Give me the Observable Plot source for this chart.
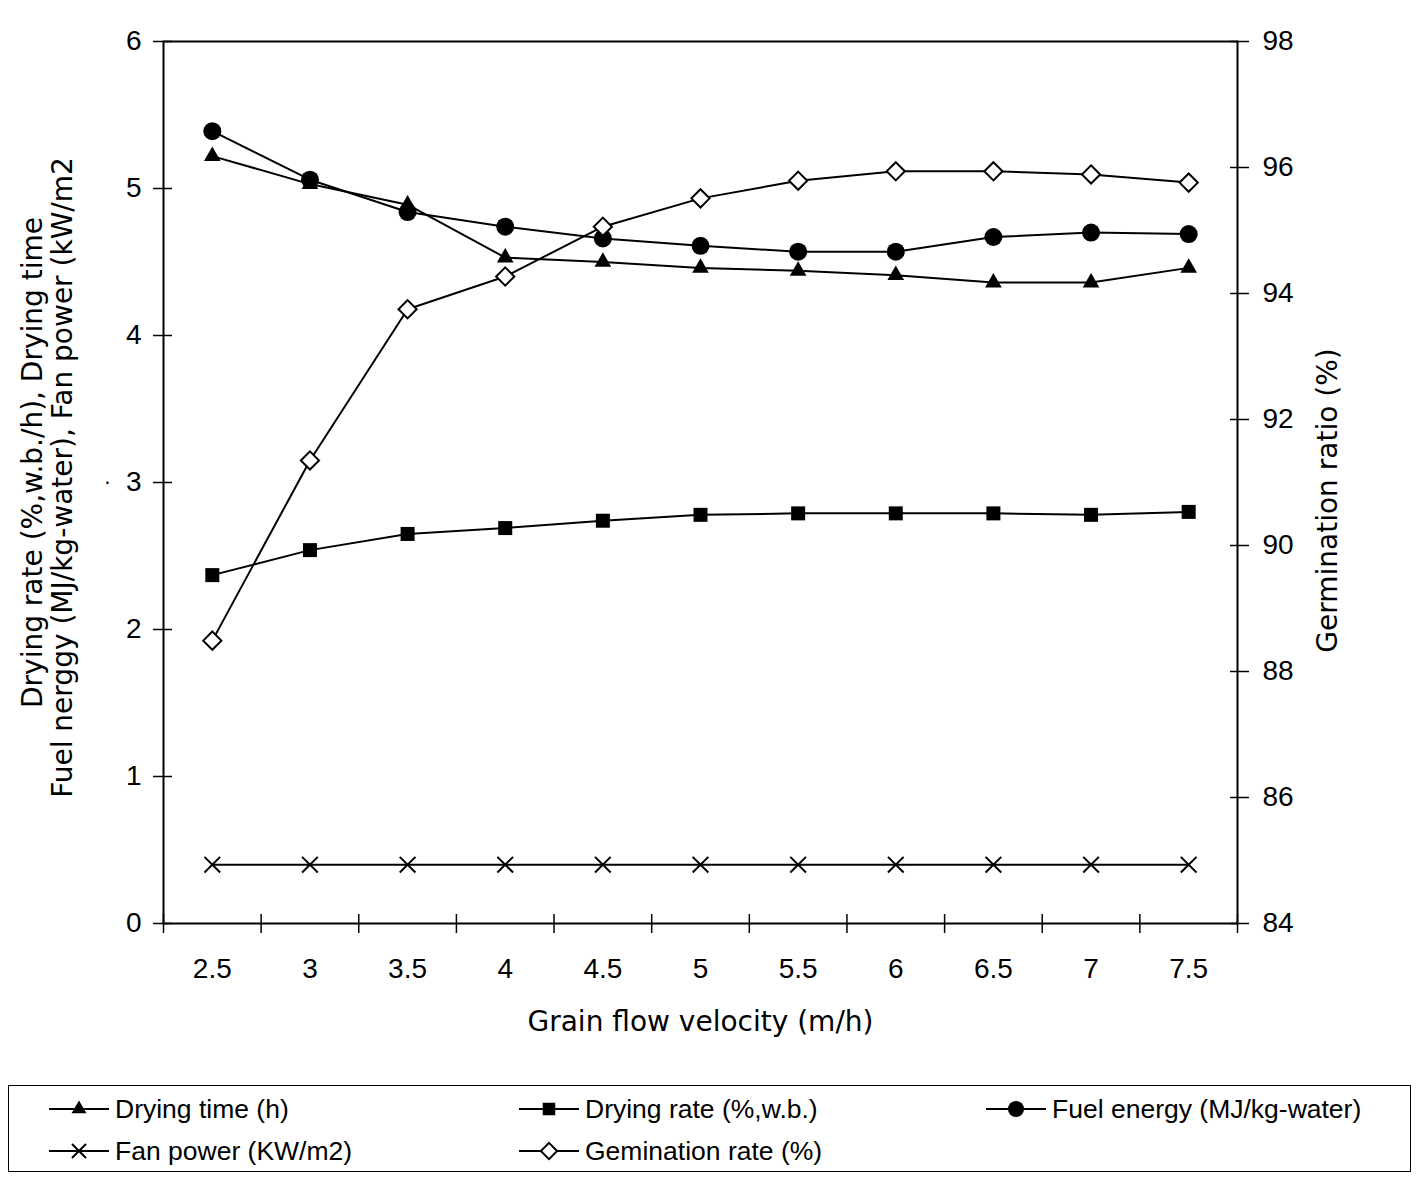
<!DOCTYPE html>
<html><head><meta charset="utf-8">
<script src="https://cdn.jsdelivr.net/npm/d3@7"></script>
<script src="https://cdn.jsdelivr.net/npm/@observablehq/plot@0.6"></script>
<style>
body{margin:0;background:#fff;font-family:"Liberation Sans",Arial,sans-serif;}
#wrap{position:relative;width:1418px;height:1181px;overflow:hidden;}
#legend{position:absolute;left:8px;top:1085px;width:1403px;height:87px;border:1.5px solid #000;box-sizing:border-box;}
.item{position:absolute;display:flex;align-items:center;height:40px;white-space:nowrap;font-size:26.5px;color:#000;}
.item svg{margin-right:4px;}
</style></head><body><div id="wrap"><div id="chart"></div><div id="legend"></div></div>
<script>
// ---- data ----
const velocity = [2.5, 3, 3.5, 4, 4.5, 5, 5.5, 6, 6.5, 7, 7.5];
const dryingTime = [5.22, 5.03, 4.89, 4.53, 4.50, 4.46, 4.44, 4.41, 4.36, 4.36, 4.46];
const dryingRate = [2.37, 2.54, 2.65, 2.69, 2.74, 2.78, 2.79, 2.79, 2.79, 2.78, 2.80];
const fuelEnergy = [5.39, 5.06, 4.84, 4.74, 4.66, 4.61, 4.57, 4.57, 4.67, 4.70, 4.69];
const fanPower = [0.4, 0.4, 0.4, 0.4, 0.4, 0.4, 0.4, 0.4, 0.4, 0.4, 0.4];
const germination = [88.49, 91.35, 93.75, 94.27, 95.06, 95.51, 95.79, 95.94, 95.94, 95.89, 95.76];
const leftTicks = [0, 1, 2, 3, 4, 5, 6];
const rightTicks = [84, 86, 88, 90, 92, 94, 96, 98];
const xBoundaries = [2.25, 2.75, 3.25, 3.75, 4.25, 4.75, 5.25, 5.75, 6.25, 6.75, 7.25, 7.75];
const xTitle = "Grain flow velocity (m/h)";
const yTitle1 = "Drying rate (%,w.b./h), Drying time";
const yTitle2 = "Fuel nerggy (MJ/kg-water), Fan power (kW/m2";
const y2Title = "Germination ratio (%)";
const seriesNames = ["Drying time (h)", "Drying rate (%,w.b.)", "Fuel energy (MJ/kg-water)", "Fan power (KW/m2)", "Gemination rate (%)"];

// right-axis mapping (84..98 -> 0..6)
const rMin = 84, rMax = 98, lMax = 6;
const toLeft = g => (g - rMin) * lMax / (rMax - rMin);
const fromLeft = v => v * (rMax - rMin) / lMax + rMin;

const rows = (ys, transform = v => v) => velocity.map((x, i) => ({x, y: transform(ys[i])}));
const dTime = rows(dryingTime), dRate = rows(dryingRate), dFuel = rows(fuelEnergy),
      dFan = rows(fanPower), dGerm = rows(germination, toLeft);

const symR = {triangle: 6.2, square: 7.9, circle: 9, times: 7.2, diamond2: 8.2};
const tickFont = "Liberation Sans, Arial, sans-serif";
const titleFont = "DejaVu Sans, sans-serif";

const lineOpts = {x: "x", y: "y", stroke: "#000", strokeWidth: 2};

const chart = Plot.plot({
  width: 1418,
  height: 1070,
  marginLeft: 163,
  marginRight: 181,
  marginTop: 41,
  marginBottom: 147,
  style: {fontFamily: tickFont, fontSize: "28px", color: "#000", background: "#fff"},
  x: {type: "linear", domain: [2.25, 7.75]},
  y: {type: "linear", domain: [0, 6]},
  marks: [
    Plot.frame({stroke: "#000", strokeWidth: 2}),
    Plot.axisY({anchor: "left", ticks: leftTicks, tickSize: 19, dx: 9, tickPadding: 12, tickFormat: d => String(d), label: null, fontSize: 28, strokeWidth: 1.5}),
    Plot.axisY({anchor: "right", ticks: rightTicks.map(toLeft), tickSize: 19, dx: -8, tickPadding: 14, tickFormat: v => String(Math.round(fromLeft(v))), label: null, fontSize: 28, strokeWidth: 1.5}),
    Plot.axisX({ticks: xBoundaries, tickSize: 19, dy: -9, tickFormat: () => "", label: null, strokeWidth: 1.5}),
    Plot.axisX({ticks: velocity, tickSize: 0, tickPadding: 35, tickFormat: d => String(d), label: null, fontSize: 28}),
    Plot.line(dFan, lineOpts),
    Plot.line(dRate, lineOpts),
    Plot.line(dFuel, lineOpts),
    Plot.line(dTime, lineOpts),
    Plot.line(dGerm, lineOpts),
    Plot.dot(dFan, {x: "x", y: "y", symbol: "times", r: symR.times, stroke: "#000", strokeWidth: 2}),
    Plot.dot(dRate, {x: "x", y: "y", symbol: "square", r: symR.square, fill: "#000", stroke: "none"}),
    Plot.dot(dFuel, {x: "x", y: "y", symbol: "circle", r: symR.circle, fill: "#000", stroke: "none"}),
    Plot.dot(dTime, {x: "x", y: "y", symbol: "triangle", r: symR.triangle, fill: "#000", stroke: "none"}),
    Plot.dot(dGerm, {x: "x", y: "y", symbol: "diamond2", r: symR.diamond2, fill: "#fff", stroke: "#000", strokeWidth: 2}),
    Plot.text([xTitle], {text: d => d, frameAnchor: "bottom", textAnchor: "middle", dy: 107, fontSize: 28, fontFamily: titleFont}),
    Plot.text([yTitle1], {text: d => d, frameAnchor: "left", textAnchor: "middle", rotate: -90, dx: -130, dy: -20, fontSize: 28, fontFamily: titleFont}),
    Plot.text([yTitle2], {text: d => d, frameAnchor: "left", textAnchor: "middle", rotate: -90, dx: -100, dy: -5, fontSize: 28, fontFamily: titleFont}),
    Plot.text(["."], {text: d => d, frameAnchor: "left", textAnchor: "middle", dx: -56, dy: -5, fontSize: 20, fontFamily: titleFont}),
    Plot.text([y2Title], {text: d => d, frameAnchor: "right", textAnchor: "middle", rotate: -90, dx: 91, dy: 18, fontSize: 28, fontFamily: titleFont})
  ]
});
document.getElementById("chart").appendChild(chart);

// ---- legend ----
const legendItems = [
  {name: seriesNames[0], sym: d3.symbolTriangle, r: symR.triangle, fill: "#000", left: 40, top: 3},
  {name: seriesNames[1], sym: d3.symbolSquare, r: symR.square, fill: "#000", left: 510, top: 3},
  {name: seriesNames[2], sym: d3.symbolCircle, r: symR.circle, fill: "#000", left: 977, top: 3},
  {name: seriesNames[3], sym: d3.symbolTimes, r: symR.times, fill: "none", left: 40, top: 45},
  {name: seriesNames[4], sym: d3.symbolDiamond2, r: symR.diamond2, fill: "#fff", left: 510, top: 45}
];
const legend = d3.select("#legend");
for (const it of legendItems) {
  const div = legend.append("div").attr("class", "item").style("left", it.left + "px").style("top", it.top + "px");
  const svg = div.append("svg").attr("width", 62).attr("height", 30);
  svg.append("line").attr("x1", 0).attr("x2", 60).attr("y1", 15).attr("y2", 15).attr("stroke", "#000").attr("stroke-width", 2);
  svg.append("path").attr("transform", "translate(30,15)")
    .attr("d", d3.symbol(it.sym, Math.PI * it.r * it.r * 0.8)())
    .attr("fill", it.fill).attr("stroke", it.fill === "#000" ? "none" : "#000").attr("stroke-width", 2);
  div.append("span").text(it.name);
}
</script>
</body></html>
